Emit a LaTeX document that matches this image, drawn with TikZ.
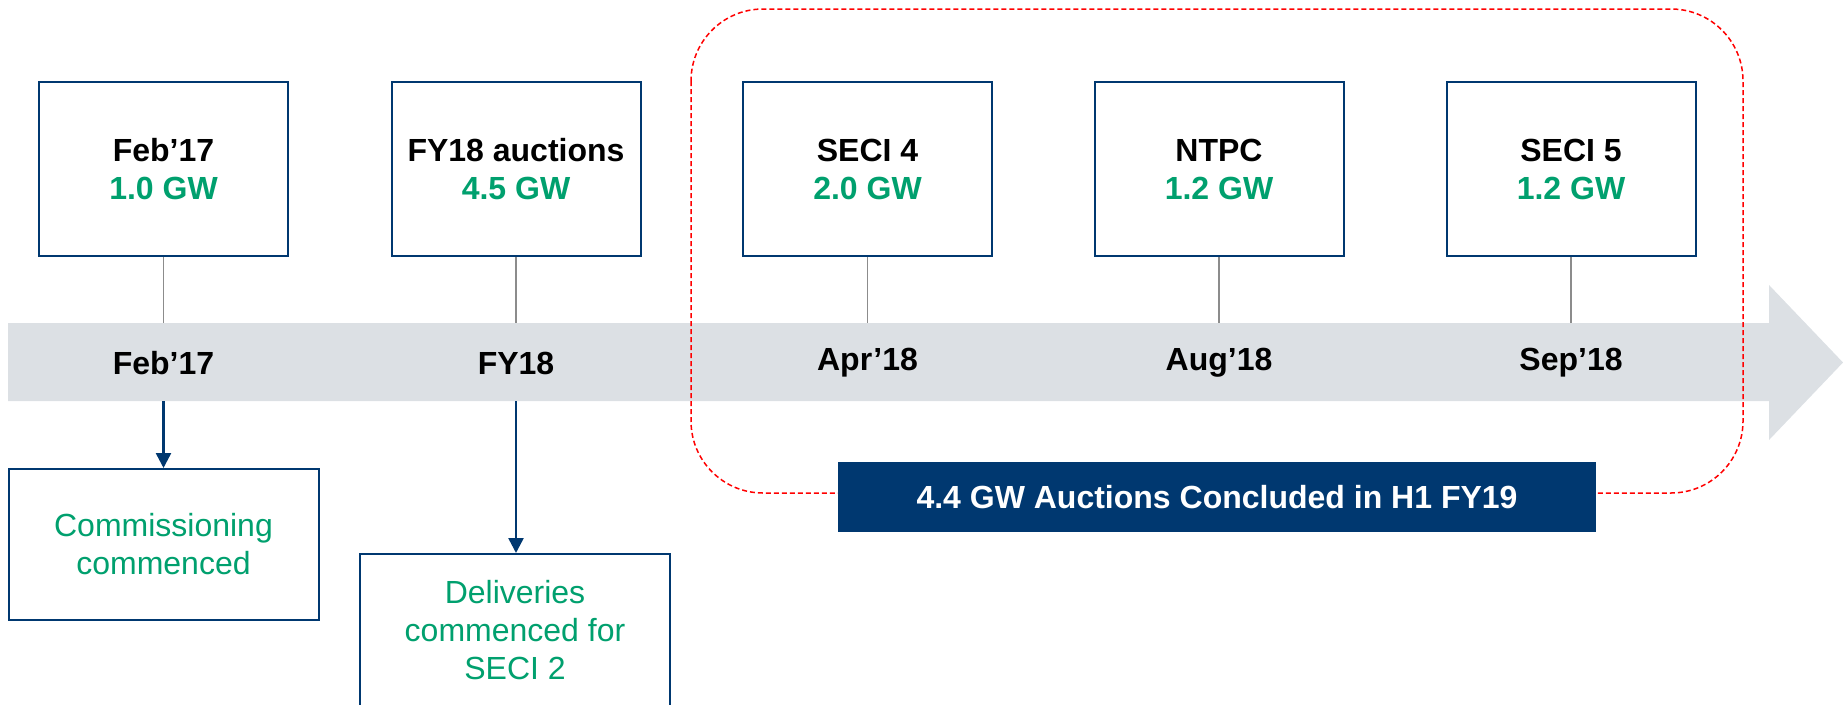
\documentclass[tikz,border=0pt]{standalone}
\usepackage{fontspec}
\setmainfont{Liberation Sans}
\usetikzlibrary{arrows.meta}
\definecolor{navy}{RGB}{0,56,112}
\definecolor{grn}{RGB}{0,160,110}
\definecolor{bandgray}{RGB}{220,224,228}
\definecolor{conngray}{RGB}{140,140,140}
\begin{document}
\begin{tikzpicture}[x=1pt,y=-1pt,
  topbox/.style={draw=navy, line width=2pt, fill=white, minimum width=249pt, minimum height=174pt,
    align=center, inner sep=0pt, font=\fontsize{32}{38}\selectfont\bfseries},
  botbox/.style={draw=navy, line width=2pt, fill=white, minimum width=310pt,
    align=center, inner sep=0pt, text=grn, font=\fontsize{32}{38}\selectfont},
  bandlabel/.style={font=\fontsize{32}{38}\selectfont\bfseries, inner sep=0pt},
  tick/.style={draw=conngray, line width=1.2pt},
  downarrow/.style={draw=navy, line width=2.5pt, -{Triangle[width=15pt,length=15pt]}},
  gw/.style={text=grn}
]
\useasboundingbox (0,0) rectangle (1843,704);
% timeline arrow
\fill[bandgray] (8,323) -- (1769,323) -- (1769,285) -- (1843,362.5) -- (1769,440) -- (1769,401) -- (8,401) -- cycle;
% red dashed group
\draw[red, line width=1.5pt, dash pattern=on 5pt off 3pt, rounded corners=72pt] (691,9) rectangle (1743,493);
% top boxes
\node[topbox] (b1) at (163.5,169) {Feb’17\\\textcolor{grn}{1.0 GW}};
\node[topbox] (b2) at (516,169) {FY18 auctions\\\textcolor{grn}{4.5 GW}};
\node[topbox] (b3) at (867.5,169) {SECI 4\\\textcolor{grn}{2.0 GW}};
\node[topbox] (b4) at (1219,169) {NTPC\\\textcolor{grn}{1.2 GW}};
\node[topbox] (b5) at (1571,169) {SECI 5\\\textcolor{grn}{1.2 GW}};
% band top points
\coordinate (t1) at (163.5,323);
\coordinate (t2) at (516,323);
\coordinate (t3) at (867.5,323);
\coordinate (t4) at (1219,323);
\coordinate (t5) at (1571,323);
\draw[tick] (b1.south) -- (t1);
\draw[tick] (b2.south) -- (t2);
\draw[tick] (b3.south) -- (t3);
\draw[tick] (b4.south) -- (t4);
\draw[tick] (b5.south) -- (t5);
% band labels
\node[bandlabel] (l1) at (163.5,363) {Feb’17};
\node[bandlabel] (l2) at (516,363) {FY18};
\node[bandlabel] (l3) at (867.5,363) {Apr’18};
\node[bandlabel] (l4) at (1219,363) {Aug’18};
\node[bandlabel] (l5) at (1571,363) {Sep’18};
% bottom boxes
\node[botbox, minimum height=151pt] (c1) at (163.5,544.5) {Commissioning\\commenced};
\node[botbox, minimum height=152pt] (c2) at (515,630) {Deliveries\\commenced for\\SECI 2};
\coordinate (a1) at (163.5,401);
\coordinate (a2) at (516,401);
\draw[downarrow] (a1) -- (c1.north);
\draw[downarrow] (a2) -- (a2 |- c2.north);
% banner
\node[fill=navy, minimum width=758pt, minimum height=70pt, inner sep=0pt, text=white,
  font=\fontsize{32}{38}\selectfont\bfseries] (banner) at (1217,497) {4.4 GW Auctions Concluded in H1 FY19};
\end{tikzpicture}
\end{document}
